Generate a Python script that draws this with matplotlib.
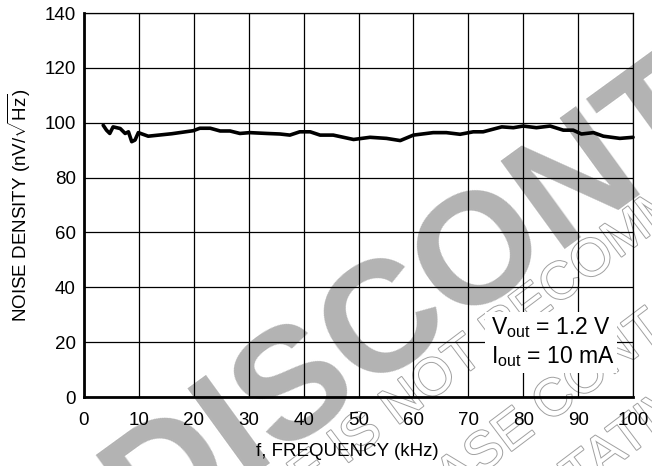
import matplotlib
matplotlib.use("Agg")
import matplotlib.pyplot as plt
import matplotlib.patheffects as pe
from matplotlib.patches import Rectangle

plt.rcParams['font.family'] = ['Liberation Sans', 'DejaVu Sans']
plt.rcParams['mathtext.fontset'] = 'custom'
plt.rcParams['mathtext.rm'] = 'Liberation Sans'
plt.rcParams['mathtext.it'] = 'Liberation Sans:italic'
plt.rcParams['mathtext.bf'] = 'Liberation Sans:bold'

# Output noise spectral density vs. frequency
freq_khz = [3.5, 4.1, 4.7, 5.3, 6.6, 7.5, 8.1, 8.7, 9.3, 9.9, 11.7, 16.0,
            19.9, 21.1, 23.0, 24.8, 26.6, 28.4, 30.2, 33.3, 35.7, 37.5, 39.3,
            41.2, 43.0, 45.4, 49.1, 52.1, 55.1, 57.6, 60.0, 63.6, 66.0, 68.5,
            70.9, 72.7, 76.1, 78.2, 80.0, 82.4, 84.9, 87.3, 89.1, 90.6, 92.8,
            94.6, 97.6, 100.0]
noise_nv = [99.1, 97.3, 96.1, 98.5, 97.9, 96.1, 96.7, 93.1, 93.7, 96.4, 95.1,
            96.0, 97.1, 98.0, 98.0, 97.0, 97.0, 96.1, 96.4, 96.1, 95.9, 95.5,
            96.7, 96.7, 95.5, 95.5, 93.9, 94.7, 94.3, 93.5, 95.5, 96.4, 96.4,
            95.8, 96.7, 96.7, 98.5, 98.2, 98.8, 98.2, 98.8, 97.3, 97.3, 95.9,
            96.4, 95.1, 94.3, 94.7]

x_ticks = [0, 10, 20, 30, 40, 50, 60, 70, 80, 90, 100]
y_ticks = [0, 20, 40, 60, 80, 100, 120, 140]

fig = plt.figure(figsize=(6.52, 4.66), dpi=100)
fig.patch.set_facecolor('white')

# Background stamp
wm_gray = '#b3b3b3'
fig.text(0.94, 0.665, 'DISCONTINUED', fontsize=114, fontweight='bold',
         color=wm_gray, rotation=36, ha='center', va='center',
         rotation_mode='anchor', zorder=-5)
outline = [pe.Stroke(linewidth=1.4, foreground='#a0a0a0'), pe.Normal()]
stamp_lines = [
    ('THIS DEVICE IS NOT RECOMMENDED FOR NEW DESIGN.', 0.105, -0.445),
    ('PLEASE CONTACT YOUR ON SEMICONDUCTOR', 0.571, -0.193),
    ('REPRESENTATIVE FOR INFORMATION', 0.531, -0.435),
]
for s, fx, fy in stamp_lines:
    fig.text(fx, fy, s, fontsize=38, color='white', rotation=37,
             ha='left', va='baseline', rotation_mode='anchor',
             path_effects=outline, zorder=-4)

ax = fig.add_axes([0.1288, 0.148, 0.8421, 0.824])
ax.patch.set_visible(False)

ax.set_xlim(0, 100)
ax.set_ylim(0, 140)
ax.set_xticks(x_ticks)
ax.set_yticks(y_ticks)
ax.tick_params(axis='both', length=0, labelsize=13.5, colors='black')
ax.tick_params(axis='x', pad=11)
ax.tick_params(axis='y', pad=6)
ax.grid(True, color='black', linewidth=0.9)
ax.set_axisbelow(True)

for side in ('top', 'right'):
    ax.spines[side].set_linewidth(0.9)
for side in ('left', 'bottom'):
    ax.spines[side].set_linewidth(2.0)

ax.plot(freq_khz, noise_nv, color='black', linewidth=2.6,
        solid_joinstyle='round', solid_capstyle='round', zorder=4,
        clip_on=False)

ax.set_xlabel('f, FREQUENCY (kHz)', fontsize=13.5)
ax.xaxis.set_label_coords(0.479, -0.12)
ax.set_ylabel(r'NOISE DENSITY (nV/$\sqrt{\mathrm{Hz}}$)', fontsize=13.5,
              labelpad=8)

# Test conditions
ax.add_patch(Rectangle((73.0, 8.7), 24.1, 22.3, facecolor='white',
                       edgecolor='none', zorder=3))
ax.text(74.2, 25.2, r'$\mathrm{V_{out}}$ = 1.2 V', fontsize=16.5,
        ha='left', va='center', zorder=5)
ax.text(74.2, 14.6, r'$\mathrm{I_{out}}$ = 10 mA', fontsize=16.5,
        ha='left', va='center', zorder=5)

fig.savefig('out.png', dpi=100)
